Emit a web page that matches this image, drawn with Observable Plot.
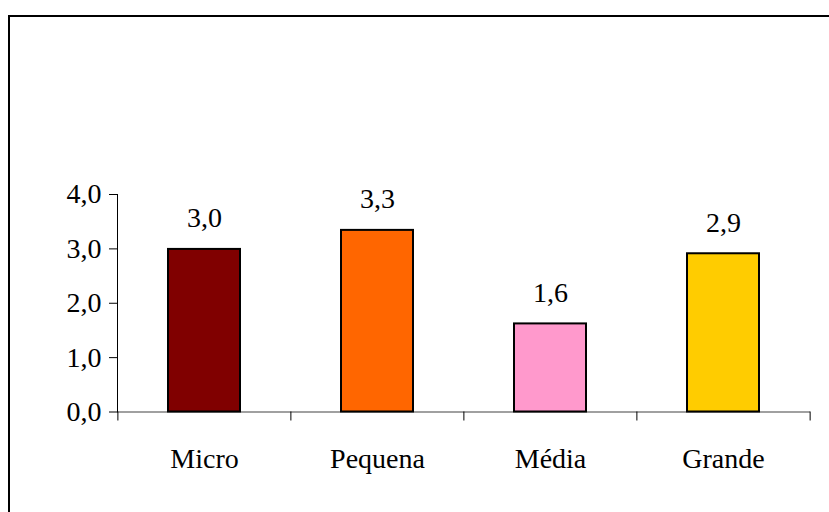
<!DOCTYPE html>
<html>
<head>
<meta charset="utf-8">
<script src="https://cdn.jsdelivr.net/npm/d3@7"></script>
<script src="https://cdn.jsdelivr.net/npm/@observablehq/plot@0.6"></script>
<style>
  html, body { margin: 0; padding: 0; background: #fff; }
  #wrap { position: relative; width: 829px; height: 512px; overflow: hidden; background: #fff; }
  #frame { position: absolute; left: 8px; top: 15px; width: 900px; height: 600px;
           border-left: 2px solid #000; border-top: 2px solid #000; box-sizing: border-box; }
  #chart { position: absolute; left: 0; top: 0; }
  #chart svg, #chart svg text { font-family: "Liberation Serif", Tinos, "Times New Roman", Times, "DejaVu Serif", serif !important; }
</style>
</head>
<body>
<div id="wrap">
  <div id="frame"></div>
  <div id="chart"></div>
</div>
<script>
const categories = ["Micro", "Pequena", "Média", "Grande"];
const values = [2.99, 3.34, 1.62, 2.91];
const colors = ["#800000", "#FF6600", "#FF99CC", "#FFCC00"];
const yTicks = [0, 1, 2, 3, 4];

const data = categories.map((c, i) => ({cat: c, value: values[i], color: colors[i]}));
const fmt = d => d.toFixed(1).replace(".", ",");

const W = 829, H = 512, mL = 117, mR = 19, mT = 194, mB = 100.5;
const step = (W - mL - mR) / categories.length;
const fs = 28;
const ff = "'Liberation Serif', Tinos, 'Times New Roman', Times, 'DejaVu Serif', serif";

const chart = Plot.plot({
  width: W, height: H,
  marginLeft: mL, marginRight: mR, marginTop: mT, marginBottom: mB,
  style: {fontFamily: ff, fontSize: fs + "px", color: "#000", background: "transparent"},
  x: {domain: categories, paddingInner: 0.584, paddingOuter: 0.292, label: null},
  y: {domain: [0, 4], label: null},
  color: {type: "identity"},
  marks: [
    Plot.axisY({ticks: yTicks, tickSize: 8, tickPadding: 8, tickFormat: fmt, fontSize: fs, fontFamily: ff, stroke: "#000", label: null}),
    Plot.axisX({tickSize: 0, tickPadding: 36, fontSize: fs, fontFamily: ff, label: null}),
    Plot.ruleY([0], {stroke: "#808080", strokeWidth: 1.5}),
    Plot.frame({anchor: "left", stroke: "#000", strokeWidth: 1}),
    Plot.ruleX(categories, {x: d => d, dx: -step / 2, y1: 0, y2: 0, insetBottom: -9, stroke: "#000", strokeWidth: 1}),
    Plot.ruleX([categories[categories.length - 1]], {x: d => d, dx: step / 2, y1: 0, y2: 0, insetBottom: -9, stroke: "#000", strokeWidth: 1}),
    Plot.barY(data, {x: "cat", y: "value", fill: "color", stroke: "#000", strokeWidth: 2}),
    Plot.text(data, {x: "cat", y: "value", text: d => fmt(d.value), dy: -31, lineAnchor: "middle", fontSize: fs, fontFamily: ff, fill: "#000"})
  ]
});
document.getElementById("chart").appendChild(chart);
</script>
</body>
</html>
